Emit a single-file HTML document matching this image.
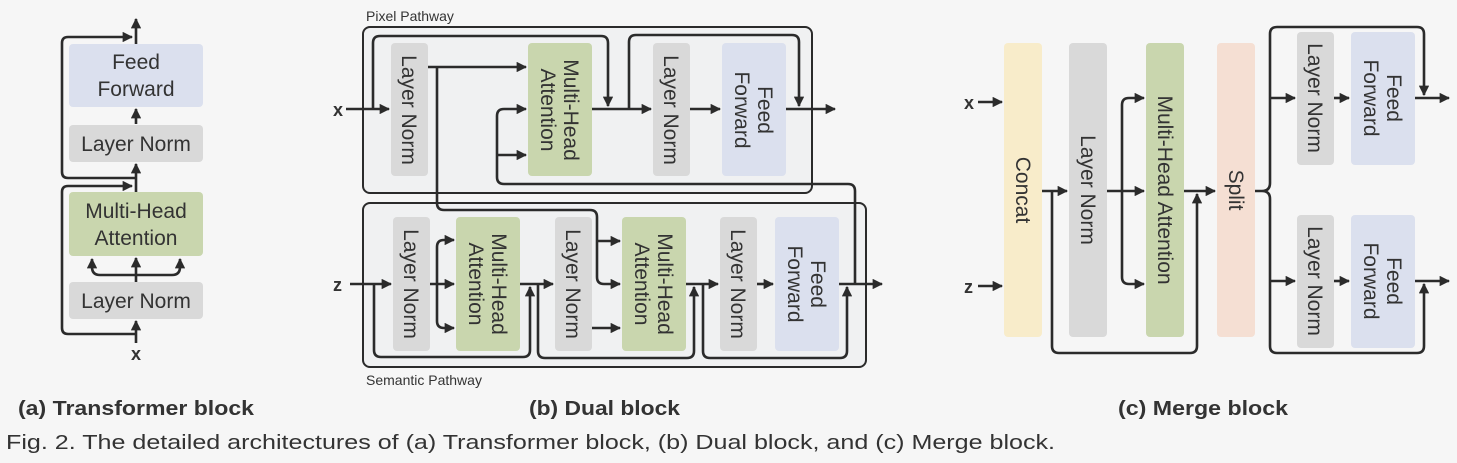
<!DOCTYPE html>
<html><head><meta charset="utf-8"><style>
body{margin:0;background:#f6f6f6;}
svg{display:block}
text{font-family:"Liberation Sans",sans-serif;fill:#333;}
</style></head><body>
<svg width="1457" height="463" viewBox="0 0 1457 463" xmlns="http://www.w3.org/2000/svg">
<defs>
<marker id="a" viewBox="0 0 10 10" refX="9" refY="5" markerWidth="4" markerHeight="4" orient="auto" markerUnits="strokeWidth"><path d="M0,0 L10,5 L0,10 Z" fill="#2b2b2b"/></marker>
</defs>
<rect width="1457" height="463" fill="#f6f6f6"/>
<!-- (a) -->
<rect x="69" y="44" width="134" height="63" rx="4" fill="#dbe0ee"/>
<rect x="69" y="125" width="134" height="37" rx="4" fill="#d9d9d9"/>
<rect x="69" y="192" width="134" height="64" rx="4" fill="#c9d6ae"/>
<rect x="69" y="282" width="134" height="37" rx="4" fill="#d9d9d9"/>
<text x="136" y="69" font-size="21" text-anchor="middle">Feed</text>
<text x="136" y="96" font-size="21" text-anchor="middle">Forward</text>
<text x="136" y="151" font-size="21" text-anchor="middle">Layer Norm</text>
<text x="136" y="218" font-size="21" text-anchor="middle">Multi-Head</text>
<text x="136" y="245" font-size="21" text-anchor="middle">Attention</text>
<text x="136" y="308" font-size="21" text-anchor="middle">Layer Norm</text>
<text x="136" y="360" font-size="18" font-weight="bold" text-anchor="middle">x</text>
<g fill="none" stroke="#2b2b2b" stroke-width="2.6" stroke-linejoin="round" marker-end="url(#a)">
<path d="M136,343 V321"/>
<path d="M136,334 H68 Q62,334 62,328 V192 Q62,186 68,186 H132"/>
<path d="M136,192 V164"/>
<path d="M136,178 H68 Q62,178 62,172 V43 Q62,37 68,37 H132"/>
<path d="M136,124 V109"/>
<path d="M136,44 V19"/>
<path d="M136,282 V258"/>
<path d="M136,275 H100 Q92,275 92,267 V259"/>
<path d="M136,275 H172 Q180,275 180,267 V259"/>
</g>

<!-- (b) -->
<text x="366" y="21" font-size="14">Pixel Pathway</text>
<rect x="363" y="27" width="449" height="166" rx="7" fill="#f0f1f2" stroke="#2b2b2b" stroke-width="2"/>
<rect x="363" y="203" width="503" height="164" rx="7" fill="#f0f1f2" stroke="#2b2b2b" stroke-width="2"/>
<text x="366" y="385" font-size="14">Semantic Pathway</text>
<rect x="391" y="43" width="37" height="133" rx="4" fill="#d9d9d9"/>
<rect x="528" y="43" width="64" height="133" rx="4" fill="#c9d6ae"/>
<rect x="653" y="43" width="37" height="133" rx="4" fill="#d9d9d9"/>
<rect x="722" y="43" width="64" height="133" rx="4" fill="#dbe0ee"/>
<rect x="393" y="217" width="37" height="134" rx="4" fill="#d9d9d9"/>
<rect x="456" y="217" width="64" height="134" rx="4" fill="#c9d6ae"/>
<rect x="555" y="217" width="37" height="134" rx="4" fill="#d9d9d9"/>
<rect x="622" y="217" width="64" height="134" rx="4" fill="#c9d6ae"/>
<rect x="720" y="217" width="37" height="134" rx="4" fill="#d9d9d9"/>
<rect x="775" y="217" width="64" height="134" rx="4" fill="#dbe0ee"/>
<g font-size="21" text-anchor="middle">
<text transform="translate(409,110) rotate(90)" y="7">Layer Norm</text>
<text transform="translate(560,110) rotate(90)"><tspan x="0" y="-4">Multi-Head</tspan><tspan x="0" y="19">Attention</tspan></text>
<text transform="translate(671,110) rotate(90)" y="7">Layer Norm</text>
<text transform="translate(754,110) rotate(90)"><tspan x="0" y="-4">Feed</tspan><tspan x="0" y="19">Forward</tspan></text>
<text transform="translate(411,284) rotate(90)" y="7">Layer Norm</text>
<text transform="translate(488,284) rotate(90)"><tspan x="0" y="-4">Multi-Head</tspan><tspan x="0" y="19">Attention</tspan></text>
<text transform="translate(573,284) rotate(90)" y="7">Layer Norm</text>
<text transform="translate(654,284) rotate(90)"><tspan x="0" y="-4">Multi-Head</tspan><tspan x="0" y="19">Attention</tspan></text>
<text transform="translate(738,284) rotate(90)" y="7">Layer Norm</text>
<text transform="translate(807,284) rotate(90)"><tspan x="0" y="-4">Feed</tspan><tspan x="0" y="19">Forward</tspan></text>
</g>
<text x="333" y="116" font-size="18" font-weight="bold">x</text>
<text x="333" y="291" font-size="18" font-weight="bold">z</text>
<g fill="none" stroke="#2b2b2b" stroke-width="2.6" stroke-linejoin="round" marker-end="url(#a)">
<!-- pixel -->
<path d="M346,109 H389"/>
<path d="M373,109 V43 Q373,36 380,36 H601 Q608,36 608,43 V106"/>
<path d="M428,67 H526"/>
<path d="M592,109 H651"/>
<path d="M629,109 V42 Q629,35 636,35 H792 Q799,35 799,42 V106"/>
<path d="M690,109 H720"/>
<path d="M786,109 H835"/>
<path d="M855,284 V191 Q855,184 848,184 H504 Q497,184 497,177 V116 Q497,109 504,109 H526"/>
<path d="M497,155 H526"/>
<!-- cross from pixel LN -->
<path d="M437,67 V203 Q437,210 444,210 H590 Q597,210 597,217 V277 Q597,284 604,284 H620"/>
<path d="M597,241 H620"/>
<!-- semantic -->
<path d="M350,284 H391"/>
<path d="M374,284 V350 Q374,357 381,357 H523 Q530,357 530,350 V287"/>
<path d="M430,284 H454"/>
<path d="M437,284 V247 Q437,240 444,240 H454"/>
<path d="M437,284 V321 Q437,328 444,328 H454"/>
<path d="M520,284 H553"/>
<path d="M538,284 V351 Q538,358 545,358 H687 Q694,358 694,351 V287"/>
<path d="M592,328 H620"/>
<path d="M686,284 H718"/>
<path d="M703,284 V351 Q703,358 710,358 H840 Q847,358 847,351 V287"/>
<path d="M757,284 H773"/>
<path d="M839,284 H882"/>
</g>

<!-- (c) -->
<rect x="1004" y="43" width="38" height="294" rx="4" fill="#f8ecca"/>
<rect x="1069" y="43" width="38" height="294" rx="4" fill="#d9d9d9"/>
<rect x="1146" y="43" width="38" height="294" rx="4" fill="#c9d6ae"/>
<rect x="1217" y="43" width="38" height="294" rx="4" fill="#f5dfd3"/>
<rect x="1297" y="32" width="37" height="133" rx="4" fill="#d9d9d9"/>
<rect x="1351" y="32" width="64" height="133" rx="4" fill="#dbe0ee"/>
<rect x="1297" y="215" width="37" height="133" rx="4" fill="#d9d9d9"/>
<rect x="1351" y="215" width="64" height="133" rx="4" fill="#dbe0ee"/>
<g font-size="21" text-anchor="middle">
<text transform="translate(1023,190) rotate(90)" y="7">Concat</text>
<text transform="translate(1088,190) rotate(90)" y="7">Layer Norm</text>
<text transform="translate(1165,190) rotate(90)" y="7">Multi-Head Attention</text>
<text transform="translate(1236,190) rotate(90)" y="7">Split</text>
<text transform="translate(1315,98) rotate(90)" y="7">Layer Norm</text>
<text transform="translate(1383,98) rotate(90)"><tspan x="0" y="-4">Feed</tspan><tspan x="0" y="19">Forward</tspan></text>
<text transform="translate(1315,281) rotate(90)" y="7">Layer Norm</text>
<text transform="translate(1383,281) rotate(90)"><tspan x="0" y="-4">Feed</tspan><tspan x="0" y="19">Forward</tspan></text>
</g>
<text x="964" y="109" font-size="18" font-weight="bold">x</text>
<text x="964" y="293" font-size="18" font-weight="bold">z</text>
<g fill="none" stroke="#2b2b2b" stroke-width="2.6" stroke-linejoin="round" marker-end="url(#a)">
<path d="M978,102 H1002"/>
<path d="M978,286 H1002"/>
<path d="M1042,191 H1067"/>
<path d="M1052,191 V346 Q1052,353 1059,353 H1190 Q1197,353 1197,346 V194"/>
<path d="M1107,191 H1144"/>
<path d="M1122,191 V105 Q1122,98 1129,98 H1144"/>
<path d="M1122,191 V277 Q1122,284 1129,284 H1144"/>
<path d="M1184,191 H1215"/>
<path d="M1270,98 H1295"/>
<path d="M1270,281 H1295"/>
<path d="M1334,98 H1349"/>
<path d="M1334,281 H1349"/>
<path d="M1415,98 H1449"/>
<path d="M1415,281 H1449"/>
<path d="M1270,98 V34 Q1270,27 1277,27 H1417 Q1424,27 1424,34 V95"/>
<path d="M1270,281 V346 Q1270,353 1277,353 H1417 Q1424,353 1424,346 V284"/>
</g>
<path d="M1255,191 H1262 Q1270,191 1270,183 V98 M1262,191 Q1270,191 1270,199 V281" fill="none" stroke="#2b2b2b" stroke-width="2.6"/>

<g font-size="20" font-weight="bold">
<text x="18" y="415" fill="#111" textLength="236" lengthAdjust="spacingAndGlyphs">(a) Transformer block</text>
<text x="529" y="415" fill="#111" textLength="151" lengthAdjust="spacingAndGlyphs">(b) Dual block</text>
<text x="1118" y="415" fill="#111" textLength="170" lengthAdjust="spacingAndGlyphs">(c) Merge block</text>
</g>
<text x="6" y="449" font-size="20" fill="#333" textLength="1049" lengthAdjust="spacingAndGlyphs">Fig. 2. The detailed architectures of (a) Transformer block, (b) Dual block, and (c) Merge block.</text>
</svg>
</body></html>
